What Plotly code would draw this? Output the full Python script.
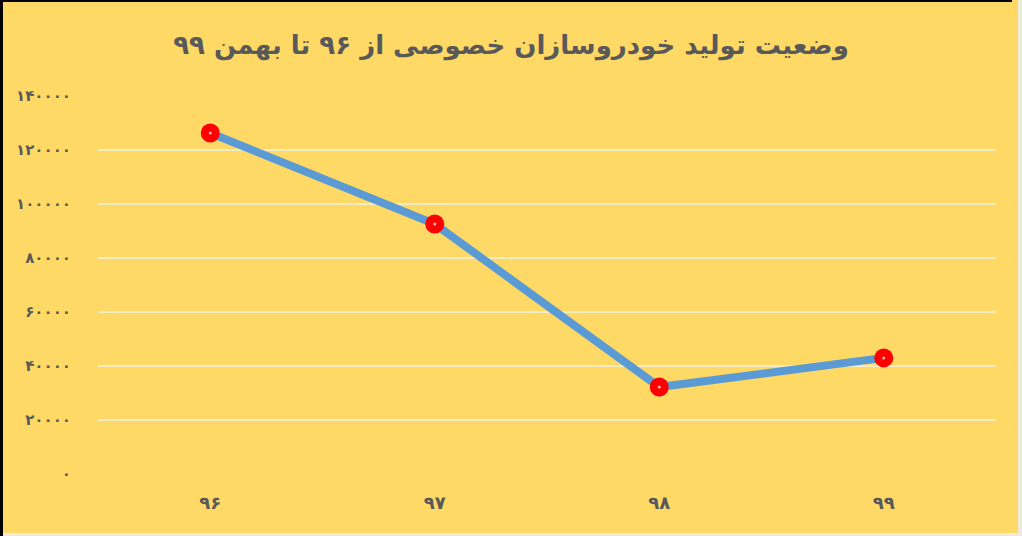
import plotly.graph_objects as go

categories = ["۹۶", "۹۷", "۹۸", "۹۹"]
values = [126300, 92600, 32200, 43000]
ytick_vals = [0, 20000, 40000, 60000, 80000, 100000, 120000, 140000]
ytick_text = ["۰", "۲۰۰۰۰", "۴۰۰۰۰", "۶۰۰۰۰", "۸۰۰۰۰", "۱۰۰۰۰۰", "۱۲۰۰۰۰", "۱۴۰۰۰۰"]
title_text = "وضعیت تولید خودروسازان خصوصی از ۹۶ تا بهمن ۹۹"

W, H = 1022, 536
L, R, T, B = 98, 26, 96, 62
PW, PH = W - L - R, H - T - B

def px(x):
    return (x - L) / PW

def py(y):
    return (H - B - y) / PH

BG = "#FFD966"
TXT = "#595959"
FONT = "DejaVu Sans"

fig = go.Figure()
fig.add_trace(go.Scatter(
    x=categories, y=values, mode="lines+markers",
    line=dict(color="#5B9BD5", width=8),
    marker=dict(color="#FF0000", size=19, line=dict(width=0)),
    hoverinfo="skip", showlegend=False,
))
fig.add_trace(go.Scatter(
    x=categories, y=values, mode="markers",
    marker=dict(color="#FFB0B0", size=3, line=dict(width=0)),
    hoverinfo="skip", showlegend=False,
))

shapes = [
    dict(type="rect", xref="paper", yref="paper", x0=px(0), x1=px(3), y0=py(H), y1=py(0),
         fillcolor="#000000", line=dict(width=0), layer="above"),
    dict(type="rect", xref="paper", yref="paper", x0=px(0), x1=px(1012), y0=py(2), y1=py(0),
         fillcolor="#000000", line=dict(width=0), layer="above"),
    dict(type="rect", xref="paper", yref="paper", x0=px(1018), x1=px(W), y0=py(H), y1=py(0),
         fillcolor="#EFEBDC", line=dict(width=0), layer="above"),
    dict(type="rect", xref="paper", yref="paper", x0=px(3), x1=px(W), y0=py(H), y1=py(533),
         fillcolor="#EFEBDC", line=dict(width=0), layer="above"),
]

fig.update_layout(
    width=W, height=H,
    margin=dict(l=L, r=R, t=T, b=B, pad=0),
    paper_bgcolor=BG, plot_bgcolor=BG,
    title=dict(text="<b>" + title_text + "</b>", x=0.5, xref="container", xanchor="center",
               y=1 - 45 / H, yanchor="middle", yref="container",
               font=dict(family=FONT, size=26, color=TXT)),
    xaxis=dict(type="category", range=[-0.5, 3.5], showgrid=False, zeroline=False,
               showline=False, ticks="", ticklabelstandoff=16,
               tickfont=dict(family=FONT, size=18, color=TXT, weight="bold")),
    yaxis=dict(range=[0, 140000], tickvals=ytick_vals, ticktext=ytick_text,
               showgrid=True, gridcolor="#F5EBC4", gridwidth=2, zeroline=False,
               showline=False, ticks="", ticklabelstandoff=26,
               tickfont=dict(family=FONT, size=15, color=TXT, weight="bold")),
    shapes=shapes,
)

fig.write_html(
    "out.html",
    config={"displayModeBar": False},
    post_script="document.body.style.margin='0';document.body.style.overflow='hidden';",
)
